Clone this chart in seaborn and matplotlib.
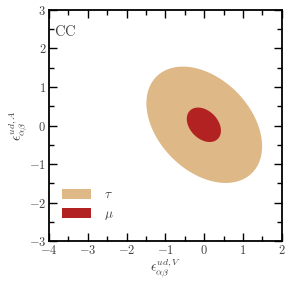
import numpy as np
import pandas as pd
import matplotlib
matplotlib.use("Agg")
import matplotlib.pyplot as plt
import seaborn as sns
from matplotlib.patches import Patch

# ellipse data: centre, widths and correlation per flavour
flavours = ["tau", "mu"]
labels = [r"$\tau$", r"$\mu$"]
colors = ["#DEB887", "#B22222"]
center_v = [0.0, -0.01]
center_a = [0.02, 0.02]
sigma_v = [1.49, 0.44]
sigma_a = [1.51, 0.447]
rho = [-0.37, -0.34]


def ellipse_points(cx, cy, sx, sy, r, n=300):
    # boundary of x^T C^-1 x = 1
    cov = np.array([[sx**2, r * sx * sy], [r * sx * sy, sy**2]])
    L = np.linalg.cholesky(cov)
    t = np.linspace(0, 2 * np.pi, n)
    pts = L @ np.vstack([np.cos(t), np.sin(t)])
    return pd.DataFrame({"v": pts[0] + cx, "a": pts[1] + cy})


def main():
    sns.set_style("ticks")
    plt.rcParams["font.family"] = ["serif"]
    plt.rcParams["font.serif"] = ["cmr10", "DejaVu Serif"]
    plt.rcParams["mathtext.fontset"] = "cm"
    plt.rcParams["axes.formatter.use_mathtext"] = True

    fig = plt.figure(figsize=(2.9, 2.85), dpi=100)
    ax = fig.add_axes([0.169, 0.154, 0.803, 0.811])

    for i in range(len(flavours)):
        df = ellipse_points(center_v[i], center_a[i], sigma_v[i], sigma_a[i], rho[i])
        ax.fill(df["v"], df["a"], color=colors[i], lw=0, zorder=2 + i)

    ax.set_xlim(-4, 2)
    ax.set_ylim(-3, 3)
    ax.set_xticks(range(-4, 3))
    ax.set_yticks(range(-3, 4))
    ax.set_xticklabels([rf"${v}$" for v in range(-4, 3)])
    ax.set_yticklabels([rf"${v}$" for v in range(-3, 4)])
    ax.set_xticks(np.arange(-4, 2.01, 0.5), minor=True)
    ax.set_yticks(np.arange(-3, 3.01, 0.5), minor=True)
    ax.tick_params(which="both", direction="in", top=True, right=True,
                   labelsize=9, width=1.0, colors="black", labelcolor="#444444", pad=2)
    ax.tick_params(which="major", length=6)
    ax.tick_params(which="minor", length=3.5)
    for s in ax.spines.values():
        s.set_linewidth(1.3)
        s.set_color("black")

    ax.set_xlabel(r"$\epsilon^{ud,V}_{\alpha\beta}$", fontsize=10, labelpad=0, color="#444444")
    ax.set_ylabel(r"$\epsilon^{ud,A}_{\alpha\beta}$", fontsize=10, labelpad=0, color="#444444")

    ax.text(-3.87, 2.45, r"$\mathrm{CC}$", fontsize=10.5, va="center", ha="left", color="#444444")

    handles = [Patch(facecolor=colors[i], edgecolor="none", label=labels[i])
               for i in range(len(flavours))]
    ax.legend(handles=handles, loc="lower left", bbox_to_anchor=(0.005, 0.03),
              frameon=False, fontsize=9.5, handlelength=2.2, handleheight=0.75,
              handletextpad=1.0, labelspacing=0.5, labelcolor="#444444")

    fig.savefig("out.png", dpi=100)
    plt.close(fig)


if __name__ == "__main__":
    main()
